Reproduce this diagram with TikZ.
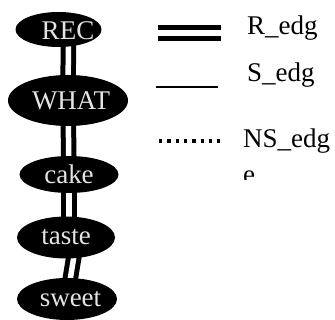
\documentclass[tikz,border=0pt]{standalone}
\usepackage{fontspec}
\setmainfont{Liberation Serif}
\usetikzlibrary{shapes.geometric,backgrounds}
\definecolor{nodetext}{HTML}{E4E4E4}
\tikzset{
  wnode/.style={ellipse, fill=black, inner sep=0pt, text=nodetext,
    font=\fontsize{27}{31}\selectfont},
  wlabel/.style={text=nodetext, inner sep=0pt, font=\fontsize{27}{31}\selectfont},
  redge/.style={line width=5pt, double=white, double distance=5.5pt, draw=black},
  sedge/.style={line width=2.5pt, draw=black},
  nsedge/.style={line width=3.6pt, draw=black, dash pattern=on 3.3pt off 5pt},
  legtext/.style={anchor=base west, inner sep=0pt,
    font=\fontsize{27}{31}\selectfont}
}
\begin{document}
\begin{tikzpicture}[x=1pt,y=-1pt]
\useasboundingbox (0,0) rectangle (335,320);
% nodes
\node[wnode, minimum width=86pt, minimum height=35pt] (rec) at (58.5,29.5) {};
\node[wlabel] (rect) at ([xshift=9.5pt,yshift=-1.5pt]rec.center) {REC};
\node[wnode, minimum width=120pt, minimum height=51pt] (what) at (68,100.5) {};
\node[wlabel] (whatt) at ([xshift=3pt]what.center) {WHAT};
\node[wnode, minimum width=99pt, minimum height=37pt] (cake) at (69,174.5) {cake};
\node[wnode, minimum width=98pt, minimum height=42pt] (taste) at (66,237.5) {taste};
\node[wnode, minimum width=100pt, minimum height=42pt] (sweet) at (67,299) {};
\node[wlabel] (sweett) at ([xshift=3.5pt]sweet.center) {sweet};
% connectors
\begin{pgfonlayer}{background}
\draw[redge] ([xshift=10pt]rec.center) -- (what.center);
\draw[redge] (what.center) -- (cake.center);
\draw[redge] (cake.center) -- ([xshift=3pt]taste.center);
\draw[redge] ([xshift=11pt]taste.center) -- (sweet.center);
\end{pgfonlayer}
% legend
\coordinate (r1) at (158,33);
\coordinate (r2) at (221,33);
\coordinate (s1) at (156,87);
\coordinate (s2) at (218,87);
\coordinate (n1) at (159,141);
\coordinate (n2) at (221,141);
\draw[redge] (r1) -- (r2);
\draw[sedge] (s1) -- (s2);
\draw[nsedge] (n1) -- (n2);
\node[legtext] (rl) at (247,35) {R\_edg};
\node[legtext] (sl) at (247,82) {S\_edg};
\node[legtext] (nl) at (243,148) {NS\_edg};
\begin{scope}
\clip (230,160) rectangle (335,180);
\node[legtext] (nle) at (243,184) {e};
\end{scope}
\end{tikzpicture}
\end{document}
